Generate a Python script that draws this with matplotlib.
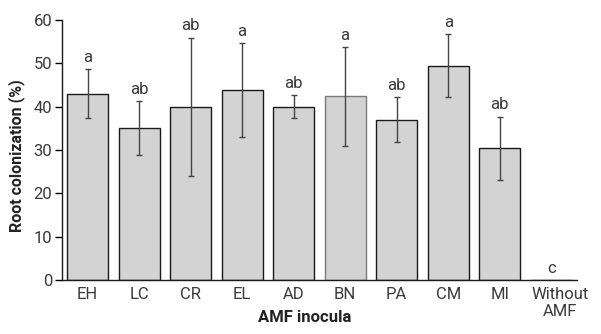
import matplotlib
matplotlib.use("Agg")
import matplotlib.pyplot as plt
import matplotlib.transforms as mtransforms

plt.rcParams['font.family'] = ['Roboto', 'DejaVu Sans']

categories = ["EH", "LC", "CR", "EL", "AD", "BN", "PA", "CM", "MI", "Without\nAMF"]
colonization = [43.0, 35.0, 40.0, 43.8, 40.0, 42.4, 37.0, 49.5, 30.4, 0.0]
errors = [5.7, 6.2, 15.9, 10.8, 2.6, 11.4, 5.2, 7.2, 7.3, 0.0]
letters = ["a", "ab", "ab", "a", "ab", "a", "ab", "a", "ab", "c"]
edges = ["#1a1a1a"] * 5 + ["#7a7a7a"] + ["#1a1a1a"] * 4

text_col = "#3a3a3a"
fs = 12

fig = plt.figure(figsize=(6.01, 3.34), dpi=100)
ax = fig.add_axes([0.103, 0.162, 0.857, 0.778])

x = range(len(categories))
ax.bar(x, colonization, width=0.8, color="#d2d3d2", edgecolor=edges, linewidth=1.0, zorder=2)
ax.errorbar(x[:-1], colonization[:-1], yerr=errors[:-1], fmt="none", ecolor="#444444",
            elinewidth=1.0, capsize=2.5, capthick=1.0, zorder=3)

for i, (v, e, lab) in enumerate(zip(colonization, errors, letters)):
    ax.text(i, v + e + 1.7, lab, ha="center", va="baseline", fontsize=fs, color=text_col)

ax.set_xlim(-0.5, 9.5)
ax.set_ylim(0, 60)
ax.set_yticks(range(0, 61, 10))
ax.set_xticks(list(x))
ax.set_xticklabels(categories, fontsize=fs, color=text_col, linespacing=1.2)
ax.tick_params(axis="y", labelsize=fs, labelcolor=text_col, length=5, width=1, pad=2)
ax.tick_params(axis="x", length=0, pad=5)

# last label sits a little right of its slot in the original
last = ax.get_xticklabels()[-1]
last.set_transform(last.get_transform() + mtransforms.ScaledTranslation(9 / 100, 0, fig.dpi_scale_trans))

for s in ["top", "right"]:
    ax.spines[s].set_visible(False)
for s in ["left", "bottom"]:
    ax.spines[s].set_linewidth(1.0)
    ax.spines[s].set_color("#1a1a1a")

ax.set_ylabel("Root colonization (%)", fontsize=11.5, fontweight="bold", color="#222222")
ax.yaxis.set_label_coords(-0.072, 0.48)
ax.set_xlabel("AMF inocula", fontsize=12, fontweight="bold", color="#222222")
ax.xaxis.set_label_coords(0.472, -0.115)

fig.savefig("out.png", dpi=100)
